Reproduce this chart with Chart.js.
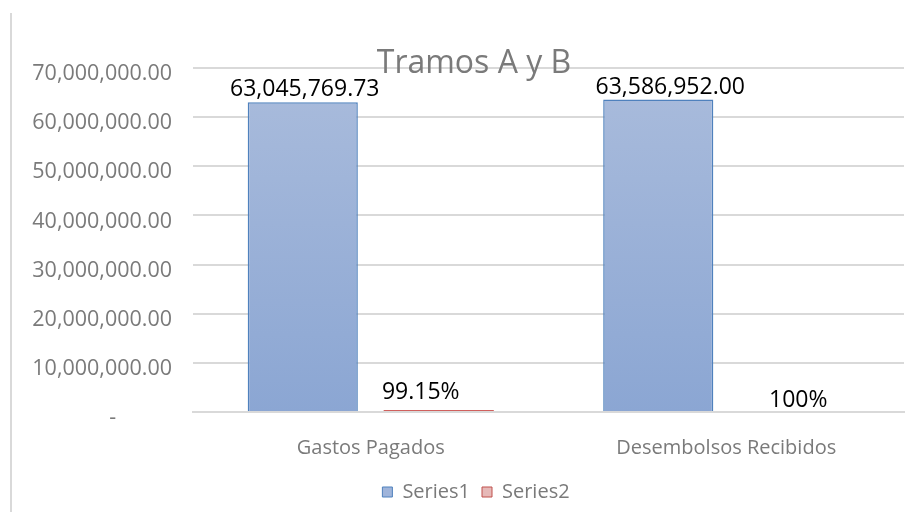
<!DOCTYPE html>
<html>
<head>
<meta charset="utf-8">
<script src="https://cdn.jsdelivr.net/npm/chart.js@4.4.1/dist/chart.umd.min.js"></script>
<style>
    html, body { margin: 0; padding: 0; background: #fff; }
    #wrap { position: relative; width: 914px; height: 512px; }
    #edge { position: absolute; left: 10px; top: 13px; width: 0; height: 499px; border-left: 2px solid #d9d9d9; }
</style>
</head>
<body>
<div id="wrap">
    <div id="edge"></div>
    <canvas id="tramosChart" width="914" height="512"></canvas>
</div>
<script>
// Chart data
const categories = ['Gastos Pagados', 'Desembolsos Recibidos'];
const series1 = [63045769.73, 63586952.00];
const series2 = [0.9915, 1];
const seriesNames = ['Series1', 'Series2'];
const yTicks = [0, 10000000, 20000000, 30000000, 40000000, 50000000, 60000000, 70000000];
const chartTitle = 'Tramos A y B';

const fmtMoney = v => v.toLocaleString('en-US', { minimumFractionDigits: 2, maximumFractionDigits: 2 });
const fmtPct = v => parseFloat((v * 100).toFixed(2)) + '%';

// Excel-like bar gradients
function barGradient(ctx, top, bottom) {
    const area = ctx.chart.chartArea;
    if (!area) return top;
    const g = ctx.chart.ctx.createLinearGradient(0, area.top, 0, area.bottom);
    g.addColorStop(0, top);
    g.addColorStop(1, bottom);
    return g;
}

// Title drawn over the plot, like the original
const titlePlugin = {
    id: 'overTitle',
    afterDraw(chart) {
        const c = chart.ctx;
        c.save();
        c.font = '32px "Open Sans"';
        c.fillStyle = '#7a7a7a';
        c.textAlign = 'center';
        c.textBaseline = 'alphabetic';
        c.fillText(chartTitle, 474, 73);
        c.restore();
    }
};

// Legend sits a little right of the canvas centre in the original
const legendShift = {
    id: 'legendShift',
    afterLayout(chart) {
        chart.legend.left += 24;
        chart.legend.right += 24;
    }
};

// Value labels above the bars
const labelPlugin = {
    id: 'barLabels',
    afterDatasetsDraw(chart) {
        const c = chart.ctx;
        c.save();
        c.fillStyle = '#000';
        c.textAlign = 'center';
        c.textBaseline = 'alphabetic';
        c.font = '23px "Open Sans"';
        chart.data.datasets.forEach((ds, i) => {
            const meta = chart.getDatasetMeta(i);
            meta.data.forEach((bar, j) => {
                const v = ds.data[j];
                if (i === 0) {
                    c.fillText(fmtMoney(v), bar.x + (j === 0 ? 2 : 12), bar.y - 6);
                } else {
                    c.fillText(fmtPct(v), bar.x + (j === 0 ? -18 : 4), bar.y - (j === 0 ? 11 : 3));
                }
            });
        });
        c.restore();
    }
};

new Chart(document.getElementById('tramosChart').getContext('2d'), {
    type: 'bar',
    data: {
        labels: categories,
        datasets: [{
            label: seriesNames[0],
            data: series1,
            backgroundColor: ctx => barGradient(ctx, '#aabcdc', '#8ba6d3'),
            borderColor: '#4f81bd',
            borderWidth: 1.5,
            borderSkipped: 'bottom',
            categoryPercentage: 0.765,
            barPercentage: 0.81
        }, {
            label: seriesNames[1],
            data: series2,
            backgroundColor: ['#d0605d', 'rgba(0,0,0,0)'],
            borderWidth: 0,
            minBarLength: 2,
            categoryPercentage: 0.765,
            barPercentage: 0.81
        }]
    },
    options: {
        responsive: false,
        animation: false,
        layout: { padding: { top: 68, right: 10, bottom: 0, left: 0 } },
        plugins: {
            title: { display: false },
            tooltip: { enabled: false },
            legend: {
                position: 'bottom',
                labels: {
                    boxWidth: 10,
                    boxHeight: 10,
                    padding: 12,
                    color: '#7a7a7a',
                    font: { family: 'Open Sans', size: 20 },
                    generateLabels: chart => chart.data.datasets.map((ds, i) => ({
                        text: ds.label,
                        fillStyle: i === 0 ? '#9fb4da' : '#e6b9b8',
                        strokeStyle: i === 0 ? '#4f81bd' : '#c0504d',
                        lineWidth: 1,
                        fontColor: '#7a7a7a',
                        datasetIndex: i
                    }))
                }
            }
        },
        scales: {
            x: {
                grid: { display: false, drawTicks: false },
                border: { color: '#d9d9d9', width: 2 },
                ticks: {
                    color: '#7a7a7a',
                    padding: 24,
                    font: { family: 'Open Sans', size: 20 }
                },
                afterFit: scale => { scale.height = 58; }
            },
            y: {
                min: 0,
                max: 70000000,
                afterBuildTicks: scale => { scale.ticks = yTicks.map(v => ({ value: v })); },
                grid: { color: '#d9d9d9', lineWidth: 2, drawTicks: false },
                border: { display: false },
                ticks: {
                    color: '#7a7a7a',
                    padding: 21,
                    labelOffset: 6,
                    font: { family: 'Open Sans', size: 21.5 },
                    callback: v => v === 0 ? '-          ' : fmtMoney(v)
                },
                afterFit: scale => { scale.width = 193; }
            }
        }
    },
    plugins: [labelPlugin, titlePlugin, legendShift]
});
</script>
</body>
</html>
